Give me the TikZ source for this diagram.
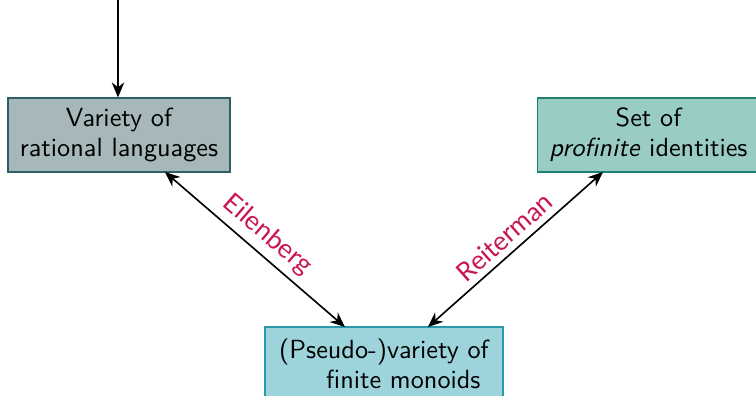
\documentclass[tikz,border=0pt]{standalone}
\usepackage{fontspec}
\newfontfamily\labelfont{Lato}
\usetikzlibrary{arrows.meta}
\definecolor{boxAfill}{HTML}{A6B8BA}
\definecolor{boxAdraw}{HTML}{2E5F66}
\definecolor{boxBfill}{HTML}{99CCC4}
\definecolor{boxBdraw}{HTML}{1F8070}
\definecolor{boxCfill}{HTML}{9DD3DA}
\definecolor{boxCdraw}{HTML}{2A9AAA}
\definecolor{lblcol}{HTML}{C8174F}
\tikzset{
  box/.style={rectangle, draw, line width=0.5pt, inner sep=0pt, align=center,
    minimum width=88.8pt, minimum height=29.6pt, font=\sffamily\fontsize{10.5}{12}\selectfont},
  conn/.style={line width=0.65pt, {Stealth[length=6pt,width=5pt]}-{Stealth[length=6pt,width=5pt]}},
  single/.style={line width=0.65pt, -{Stealth[length=6pt,width=5pt]}},
  lbl/.style={font=\labelfont\fontsize{10.5}{12}\selectfont, text=lblcol, sloped, midway, above, inner sep=2.5pt}
}
\begin{document}
\begin{tikzpicture}[x=0.4pt,y=-0.4pt]
\useasboundingbox (0,0) rectangle (756,395);
\clip (0,0) rectangle (756,395);
\node[box, fill=boxAfill, draw=boxAdraw] (var) at (119,135) {Variety of\\rational languages};
\node[box, fill=boxBfill, draw=boxBdraw] (ids) at (648.5,135) {Set of\\\textit{profinite} identities};
\node[box, fill=boxCfill, draw=boxCdraw, minimum width=95.2pt, align=left] (mon) at (384,364) {(Pseudo-)variety of\\\hspace*{18.8pt}finite monoids};
\coordinate (top) at (118,0);
\coordinate (e1) at (165,172);
\coordinate (e2) at (345,327);
\coordinate (r1) at (428,327);
\coordinate (r2) at (603,172);
\draw[single] (top) -- (var.north -| top);
\draw[conn] (e1) -- node[lbl] {Eilenberg} (e2);
\draw[conn] (r1) -- node[lbl] {Reiterman} (r2);
\end{tikzpicture}
\end{document}
